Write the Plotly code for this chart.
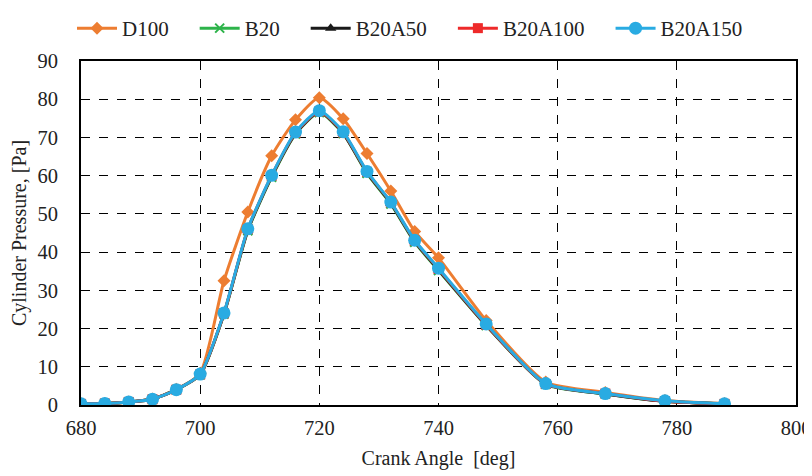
import plotly.graph_objects as go

crank_angle = [680, 684, 688, 692, 696, 700, 704, 708, 712, 716, 720, 724, 728, 732, 736, 740, 748, 758, 768, 778, 788]

d100 =     [0.3, 0.4, 0.8, 1.6, 4.1, 8.3, 32.5, 50.5, 65.2, 74.6, 80.4, 74.9, 65.8, 56.0, 45.4, 38.5, 22.1, 6.0, 3.3, 1.2, 0.4]
b20 =      [0.3, 0.4, 0.8, 1.5, 4.0, 7.9, 23.8, 45.6, 59.6, 70.9, 76.5, 71.0, 60.6, 52.6, 42.6, 35.2, 20.8, 5.4, 2.9, 1.0, 0.3]
b20a50 =   [0.3, 0.4, 0.8, 1.5, 4.0, 8.0, 23.9, 45.8, 59.8, 71.0, 76.7, 71.1, 60.8, 52.8, 42.8, 35.4, 20.9, 5.5, 2.9, 1.0, 0.3]
b20a100 =  [0.3, 0.4, 0.8, 1.5, 4.0, 8.0, 24.0, 46.0, 60.0, 71.2, 76.8, 71.3, 61.0, 53.0, 43.0, 35.6, 21.0, 5.5, 3.0, 1.0, 0.3]
b20a150 =  [0.3, 0.4, 0.8, 1.5, 4.0, 8.1, 24.1, 46.1, 60.1, 71.4, 77.0, 71.5, 61.1, 53.1, 43.1, 35.8, 21.2, 5.6, 3.0, 1.1, 0.3]

series_names = ["D100", "B20", "B20A50", "B20A100", "B20A150"]
series_values = [d100, b20, b20a50, b20a100, b20a150]
colors = ["#ED7D31", "#2DB34A", "#1A1A1A", "#EE2A2A", "#29ABE2"]
symbols = ["diamond", "x-thin", "triangle-up", "square", "circle"]
msizes = [10, 9, 10, 10, 13]

x_ticks = [680, 700, 720, 740, 760, 780, 800]
y_ticks = [0, 10, 20, 30, 40, 50, 60, 70, 80, 90]

pad = "\u00a0" * 4
fig = go.Figure()
for i, (name, vals, c, s, ms) in enumerate(zip(series_names, series_values, colors, symbols, msizes)):
    marker = dict(symbol=s, size=ms, color=c)
    if s == "x-thin":
        marker["line"] = dict(color=c, width=2)
    label = name + (pad if i < len(series_names) - 1 else "")
    fig.add_trace(go.Scatter(
        x=crank_angle, y=vals, name=label, mode="lines+markers",
        line=dict(color=c, width=3, shape="spline", smoothing=0.6),
        marker=marker,
    ))

font = "Liberation Serif"
fig.update_layout(
    width=804, height=462,
    margin=dict(l=73, r=16, t=53, b=65, autoexpand=False),
    paper_bgcolor="white", plot_bgcolor="white",
    font=dict(family=font, size=20, color="#222222"),
    legend=dict(orientation="h", x=0.5, xanchor="center", xref="container",
                y=1.0, yanchor="top", yref="container",
                font=dict(size=21, family=font), itemwidth=40, tracegroupgap=0),
    showlegend=True,
)
fig.update_xaxes(
    range=[680, 800], tickvals=x_ticks, ticks="", showline=True, linecolor="black",
    linewidth=2, mirror=True, showgrid=True, gridcolor="black", griddash="dash",
    gridwidth=1, zeroline=False, automargin=False, ticklabelstandoff=3,
    title=dict(text="Crank Angle  [deg]", font=dict(size=20, family=font), standoff=14),
    tickfont=dict(size=20.5, family=font),
)
fig.update_yaxes(
    range=[0, 90], tickvals=y_ticks, ticks="", showline=True, linecolor="black",
    linewidth=2, mirror=True, showgrid=True, gridcolor="black", griddash="dash",
    gridwidth=1, zeroline=False, automargin=False, ticklabelstandoff=17,
    title=dict(text="Cylinder Pressure, [Pa]", font=dict(size=20, family=font), standoff=10),
    tickfont=dict(size=20.5, family=font),
)
fig.write_html("out.html")
